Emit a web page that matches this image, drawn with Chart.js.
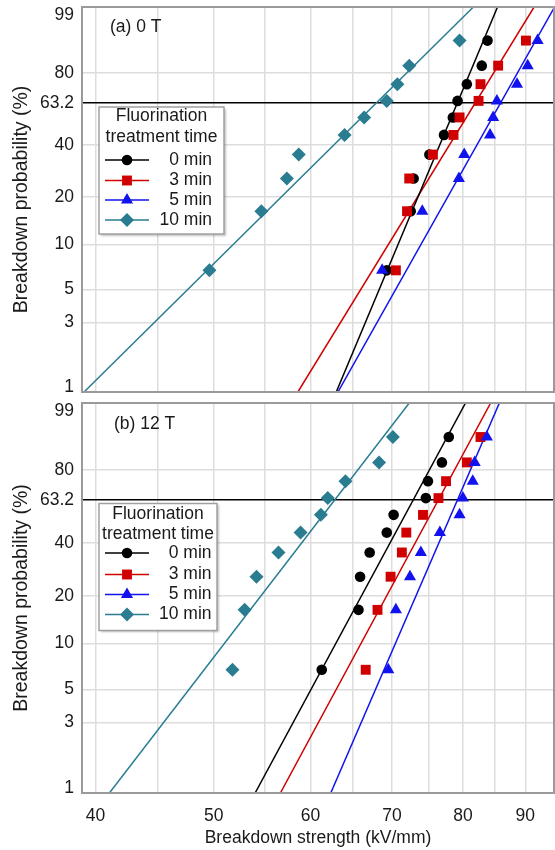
<!DOCTYPE html>
<html>
<head>
<meta charset="utf-8">
<script src="https://cdn.jsdelivr.net/npm/chart.js"></script>
<style>
  body { margin: 0; background: #fff; }
  #wrap { position: relative; width: 555px; height: 850px; }
  #chart-a { position: absolute; left: 0; top: 0; }
  #chart-b { position: absolute; left: 0; top: 397px; }
</style>
</head>
<body>
<div id="wrap">
  <canvas id="chart-a" width="555" height="397"></canvas>
  <canvas id="chart-b" width="555" height="453"></canvas>
</div>
<script>
const FONT = '"Liberation Sans", Arial, Helvetica, sans-serif';
const TEXT = '#1a1a1a';

const seriesNames = ['0 min', '3 min', '5 min', '10 min'];
const seriesColors = ['#000000', '#d00000', '#1212ee', '#2a7d90'];
const seriesMarkers = ['circle', 'rect', 'triangle', 'rectRot'];
const markerRadius = [5.3, 7, 7, 7];

// median ranks of the 10 samples (%)
const rankProbabilities = [6.73, 16.35, 25.96, 35.58, 45.19, 54.81, 64.42, 74.04, 83.65, 93.27];
// fitted lines: strength at 1 % and at 99 %
const fitProbabilities = [1, 99];

// (a) 0 T, breakdown strength (kV/mm)
const a0min = [69.3, 72.5, 72.9, 75.1, 77.2, 78.5, 79.2, 80.6, 82.9, 83.8];
const a3min = [70.5, 72.0, 72.3, 75.6, 78.6, 79.5, 82.4, 82.7, 85.5, 90.1];
const a5min = [68.7, 74.1, 79.4, 80.2, 84.2, 84.7, 85.3, 88.6, 90.4, 92.1];
const a10min = [49.6, 54.7, 57.4, 58.7, 64.0, 66.4, 69.3, 70.7, 72.3, 79.5];
const aFit0 = [63.0, 85.4];
const aFit3 = [58.6, 91.5];
const aFit5 = [63.2, 95.1];
const aFit10 = [39.15, 81.6];

// (b) 12 T
const b0min = [61.3, 65.7, 65.9, 67.1, 69.3, 70.2, 74.6, 74.9, 76.9, 77.9];
const b3min = [66.6, 68.1, 69.8, 71.3, 71.9, 74.2, 76.4, 77.5, 80.6, 82.7];
const b5min = [69.5, 70.5, 72.4, 73.9, 76.6, 79.5, 80.0, 81.5, 81.8, 83.7];
const b10min = [51.8, 53.0, 54.2, 56.5, 58.9, 61.2, 62.0, 64.1, 68.3, 70.1];
const bFit0 = [54.06, 80.4];
const bFit3 = [56.7, 84.3];
const bFit5 = [62.35, 85.7];
const bFit10 = [41.07, 72.3];

const yTickValues = [1, 3, 5, 10, 20, 40, 63.2, 80, 99];
const yTickLabels = ['1', '3', '5', '10', '20', '40', '63.2', '80', '99'];
const xGridValues = [40, 45, 50, 55, 60, 65, 70, 75, 80, 85, 90, 95];
const xTickLabels = ['40', '', '50', '', '60', '', '70', '', '80', '', '90', ''];

function weibull(p) {
    return Math.log(-Math.log(1 - p / 100));
}

function buildDatasets(pointSeries, fitSeries) {
    const datasets = [];
    pointSeries.forEach((values, i) => {
        datasets.push({
            label: seriesNames[i] + ' fit',
            data: fitSeries[i].map((x, j) => ({ x: x, y: weibull(fitProbabilities[j]) })),
            showLine: true,
            borderColor: seriesColors[i],
            borderWidth: 1.5,
            pointRadius: 0,
            order: 10
        });
        datasets.push({
            label: seriesNames[i],
            data: values.map((x, j) => ({ x: x, y: weibull(rankProbabilities[j]) })),
            pointStyle: seriesMarkers[i],
            pointRadius: markerRadius[i],
            backgroundColor: seriesColors[i],
            borderColor: seriesColors[i],
            borderWidth: 0,
            order: 4 - i
        });
    });
    return datasets;
}

function xAxis(showLabels) {
    return {
        type: 'logarithmic',
        min: 39,
        max: 95,
        afterBuildTicks: scale => {
            scale.ticks = xGridValues.map(v => ({ value: v }));
        },
        afterFit: scale => {
            scale.height = showLabels ? 57 : 5;
            scale.paddingLeft = 0;
            scale.paddingRight = 0;
        },
        grid: { color: '#dddddd', lineWidth: 1.5, drawTicks: false },
        border: { display: false },
        ticks: {
            display: showLabels,
            autoSkip: false,
            maxRotation: 0,
            padding: 13,
            color: TEXT,
            font: { family: FONT, size: 17.5 },
            callback: (value, index) => xTickLabels[index]
        },
        title: {
            display: showLabels,
            text: 'Breakdown strength (kV/mm)',
            color: TEXT,
            font: { family: FONT, size: 17.5 },
            padding: { top: 0, bottom: 1 }
        }
    };
}

function yAxis() {
    const last = yTickValues.length - 1;
    return {
        type: 'linear',
        min: weibull(1),
        max: weibull(99),
        afterBuildTicks: scale => {
            // edge labels sit a little inside the frame
            scale.ticks = yTickValues.map((p, i) => {
                let v = weibull(p);
                if (i === 0) v += 0.07;
                if (i === last) v -= 0.135;
                return { value: v };
            });
        },
        afterFit: scale => {
            scale.width = 82;
            scale.paddingTop = 0;
            scale.paddingBottom = 0;
        },
        grid: {
            drawTicks: false,
            color: ctx => {
                if (ctx.index === 0 || ctx.index === last) return 'rgba(0,0,0,0)';
                return yTickValues[ctx.index] === 63.2 ? '#000000' : '#dddddd';
            },
            lineWidth: 1.5
        },
        border: { display: false },
        ticks: {
            autoSkip: false,
            padding: 8,
            color: TEXT,
            font: { family: FONT, size: 17.5 },
            callback: (value, index) => yTickLabels[index]
        },
        title: {
            display: true,
            text: 'Breakdown probability (%)',
            color: TEXT,
            font: { family: FONT, size: 19.5 },
            padding: { top: 10, bottom: 0 }
        }
    };
}

function drawMarker(ctx, style, x, y, r) {
    ctx.beginPath();
    if (style === 'circle') {
        ctx.arc(x, y, r, 0, Math.PI * 2);
    } else if (style === 'rect') {
        const s = r * Math.SQRT1_2;
        ctx.rect(x - s, y - s, 2 * s, 2 * s);
    } else if (style === 'triangle') {
        ctx.moveTo(x, y - r);
        ctx.lineTo(x + r * Math.sin(Math.PI * 2 / 3), y + r / 2);
        ctx.lineTo(x - r * Math.sin(Math.PI * 2 / 3), y + r / 2);
        ctx.closePath();
    } else {
        ctx.moveTo(x - r, y);
        ctx.lineTo(x, y - r);
        ctx.lineTo(x + r, y);
        ctx.lineTo(x, y + r);
        ctx.closePath();
    }
    ctx.fill();
}

const panelDecor = {
    id: 'panelDecor',
    afterDatasetsDraw(chart, args, opts) {
        const { ctx, chartArea } = chart;
        const left = chartArea.left, top = chartArea.top;
        ctx.save();

        // frame
        ctx.strokeStyle = '#9a9a9a';
        ctx.lineWidth = 2;
        ctx.strokeRect(left, top, chartArea.right - left, chartArea.bottom - top);

        // panel label
        ctx.font = '17.5px ' + FONT;
        ctx.fillStyle = TEXT;
        ctx.textBaseline = 'middle';
        ctx.textAlign = 'left';
        ctx.fillText(opts.label, left + opts.labelX, top + opts.labelY);

        // legend box
        const bx = left + 17, by = top + opts.boxTop, bw = opts.boxWidth, bh = 127;
        ctx.save();
        ctx.shadowColor = 'rgba(0,0,0,0.25)';
        ctx.shadowOffsetX = 1.5;
        ctx.shadowOffsetY = 1.5;
        ctx.shadowBlur = 2;
        ctx.fillStyle = '#ffffff';
        ctx.fillRect(bx, by, bw, bh);
        ctx.restore();
        ctx.strokeStyle = '#a0a0a0';
        ctx.lineWidth = 1.5;
        ctx.strokeRect(bx, by, bw, bh);

        ctx.fillStyle = TEXT;
        ctx.textAlign = 'center';
        ctx.fillText('Fluorination', bx + bw / 2, by + opts.rows[0]);
        ctx.fillText('treatment time', bx + bw / 2, by + opts.rows[1]);

        seriesNames.forEach((name, i) => {
            const y = by + opts.rows[i + 2];
            ctx.strokeStyle = seriesColors[i];
            ctx.lineWidth = 1.5;
            ctx.beginPath();
            ctx.moveTo(bx + 6, y);
            ctx.lineTo(bx + 50, y);
            ctx.stroke();
            ctx.fillStyle = seriesColors[i];
            drawMarker(ctx, seriesMarkers[i], bx + 28, y, markerRadius[i]);
            ctx.fillStyle = TEXT;
            ctx.textAlign = 'right';
            ctx.fillText(name, bx + opts.textRight, y);
        });
        ctx.restore();
    }
};

function makeChart(id, pointSeries, fitSeries, showX, padTop, decor) {
    const ctx = document.getElementById(id).getContext('2d');
    return new Chart(ctx, {
        type: 'scatter',
        data: { datasets: buildDatasets(pointSeries, fitSeries) },
        options: {
            responsive: false,
            animation: false,
            events: [],
            layout: { autoPadding: false, padding: { top: padTop, right: 1, left: 0, bottom: 0 } },
            scales: { x: xAxis(showX), y: yAxis() },
            plugins: {
                legend: { display: false },
                tooltip: { enabled: false },
                panelDecor: decor
            }
        },
        plugins: [panelDecor]
    });
}

makeChart('chart-a', [a0min, a3min, a5min, a10min], [aFit0, aFit3, aFit5, aFit10], false, 7, {
    label: '(a) 0 T', labelX: 28, labelY: 20,
    boxTop: 100, boxWidth: 125, textRight: 113,
    rows: [9, 30.5, 53, 73.5, 93, 113]
});

makeChart('chart-b', [b0min, b3min, b5min, b10min], [bFit0, bFit3, bFit5, bFit10], true, 6, {
    label: '(b) 12 T', labelX: 32, labelY: 21,
    boxTop: 100.5, boxWidth: 118, textRight: 112.5,
    rows: [11, 31, 49.5, 71, 91, 111]
});
</script>
</body>
</html>
